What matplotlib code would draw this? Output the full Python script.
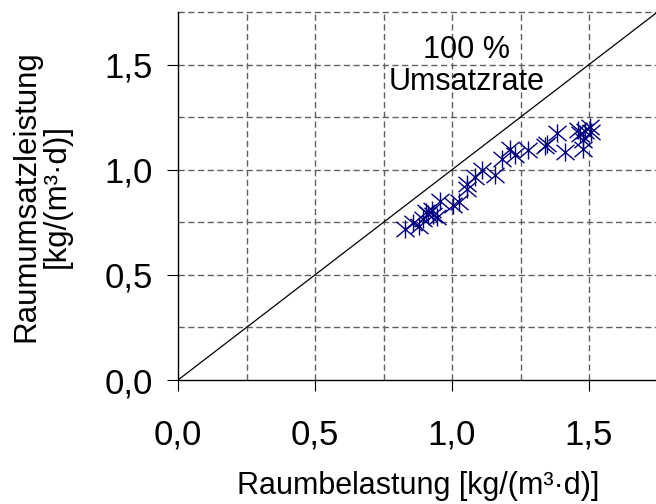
import matplotlib
matplotlib.use("Agg")
import matplotlib.pyplot as plt
from matplotlib.ticker import FixedLocator
from matplotlib.path import Path

plt.rcParams['font.family'] = ['Liberation Sans', 'DejaVu Sans']

# Data
raumbelastung = [0.828, 0.859, 0.881, 0.895, 0.914, 0.926, 0.932, 0.944, 0.905, 0.956,
                 1.005, 1.027, 1.053, 1.056, 1.084, 1.108, 1.157, 1.181, 1.212, 1.230,
                 1.278, 1.339, 1.345, 1.382, 1.412, 1.461, 1.479, 1.479, 1.485, 1.504,
                 1.509, 1.467]
raumumsatz = [0.720, 0.747, 0.731, 0.767, 0.791, 0.807, 0.783, 0.775, 0.800, 0.850,
              0.831, 0.847, 0.909, 0.933, 0.965, 1.000, 0.973, 1.052, 1.100, 1.068,
              1.092, 1.111, 1.124, 1.176, 1.084, 1.190, 1.100, 1.140, 1.184, 1.203,
              1.179, 1.171]
diag = [0.0, 1.75]
major_ticks = [0.0, 0.5, 1.0, 1.5]
tick_labels = ["0,0", "0,5", "1,0", "1,5"]
grid_pos = [0.25, 0.5, 0.75, 1.0, 1.25, 1.5, 1.75]

# asterisk marker: vertical stroke plus a wide X
star = Path([(0, -1), (0, 1), (-1, -0.85), (1, 0.85), (-1, 0.85), (1, -0.85)],
            [Path.MOVETO, Path.LINETO, Path.MOVETO, Path.LINETO, Path.MOVETO, Path.LINETO])

W, H = 656, 504
fig = plt.figure(figsize=(W / 100, H / 100), dpi=100)
ax = fig.add_axes([178 / W, (H - 380) / H, 479.5 / W, 368 / H])
ax.set_xlim(0, 1.75)
ax.set_ylim(0, 1.75)

for g in grid_pos:
    ax.axvline(g, color='#606060', lw=1.0, linestyle=(0, (4.5, 2.5)), zorder=1, clip_on=False)
    ax.axhline(g, color='#606060', lw=1.0, linestyle=(0, (4.5, 2.5)), zorder=1, clip_on=False)

ax.plot(diag, diag, color='black', lw=0.9, zorder=2)
ax.plot(raumbelastung, raumumsatz, linestyle='none', marker=star,
        markersize=13, markeredgewidth=1.0, color='#000080', zorder=3)

ax.text(1.054, 1.493, "100 %\nUmsatzrate", ha='center', va='center', fontsize=22,
        linespacing=1.1, zorder=2)

ax.spines['top'].set_visible(False)
ax.spines['right'].set_visible(False)
for s in ['left', 'bottom']:
    ax.spines[s].set_linewidth(1.0)

ax.xaxis.set_major_locator(FixedLocator(major_ticks))
ax.yaxis.set_major_locator(FixedLocator(major_ticks))
ax.set_xticklabels(tick_labels)
ax.set_yticklabels(tick_labels)
ax.tick_params(axis='both', direction='out', length=8, width=0.8, labelsize=25)
ax.tick_params(axis='x', pad=20)
ax.tick_params(axis='y', pad=10)

ax.set_xlabel("Raumbelastung [kg/(m³·d)]", fontsize=22, labelpad=14)
ax.set_ylabel("Raumumsatzleistung\n[kg/(m³·d)]", fontsize=22.5, labelpad=24, linespacing=1.0)

fig.savefig("out.png", dpi=100)
